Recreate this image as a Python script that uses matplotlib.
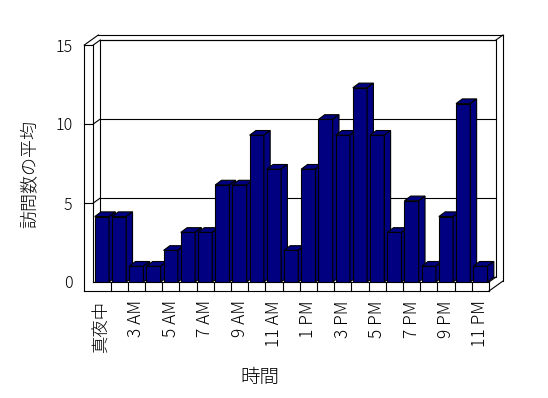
import matplotlib
matplotlib.use('Agg')
import matplotlib.pyplot as plt
from matplotlib.patches import Polygon
import numpy as np

plt.rcParams['font.family'] = ['Noto Sans CJK JP', 'DejaVu Sans']
plt.rcParams['font.weight'] = 'light'

# average visits per hour (bar order as in the chart)
hours = ['真夜中', '1 AM', '3 AM', '4 AM', '5 AM', '6 AM', '7 AM', '8 AM',
         '9 AM', '10 AM', '11 AM', '正午', '1 PM', '2 PM', '3 PM', '4 PM',
         '5 PM', '6 PM', '7 PM', '8 PM', '9 PM', '10 PM', '11 PM']
visits = [4.14, 4.14, 1.00, 1.00, 2.00, 3.14, 3.14, 6.14, 6.14, 9.29, 7.14,
          2.00, 7.14, 10.29, 9.29, 12.29, 9.29, 3.14, 5.14, 1.00, 4.14,
          11.29, 1.00]
yticks = [0, 5, 10, 15]

NAVY = '#000080'
W, H = 548, 398

fig = plt.figure(figsize=(W / 100, H / 100), dpi=100)
# front plane of the 3d box, in pixels
fx0, fx1, fy0, fy1 = 93.3, 489.0, 282.0, 45.0
ax = fig.add_axes([fx0 / W, 1 - fy0 / H, (fx1 - fx0) / W, (fy0 - fy1) / H])
n = len(visits)
xmin, xmax, ymin, ymax = -0.5, n - 0.5, 0, 15
ax.set_xlim(xmin, xmax)
ax.set_ylim(ymin, ymax)
ax.set_facecolor('none')
for s in ax.spines.values():
    s.set_visible(False)

# pixel -> data units
ux = (xmax - xmin) / (fx1 - fx0)
uy = (ymax - ymin) / (fy0 - fy1)

lw = 0.8
kw = dict(color='black', lw=lw, clip_on=False)

# depth offsets (px)
bdx, bdy = 7 * ux, 5 * uy      # inner back plane
odx, ody = 14 * ux, 10 * uy    # outer back plane
tx, ty = 9 * ux, 9 * uy        # wall / floor thickness

# back wall (inner face) and outline of the box
ax.add_patch(Polygon([(xmin + bdx, ymin + bdy), (xmax + bdx, ymin + bdy),
                      (xmax + bdx, ymax + bdy), (xmin + bdx, ymax + bdy)],
                     closed=True, fc='white', ec='black', lw=lw,
                     clip_on=False, zorder=1))
for v in yticks[1:]:
    ax.plot([xmin + bdx, xmax + bdx], [v + bdy, v + bdy], zorder=1.5, **kw)
    ax.plot([xmin, xmin + bdx], [v, v + bdy], zorder=1.5, **kw)
    ax.plot([xmin - tx, xmin], [v, v], zorder=1.5, **kw)

# left wall
ax.plot([xmin - tx, xmin - tx], [ymax, ymin - ty], zorder=2, **kw)
ax.plot([xmin, xmin], [ymax, ymin], zorder=2, **kw)
ax.plot([xmin - tx, xmin - tx + odx], [ymax, ymax + ody], zorder=2, **kw)
# back wall outer top / right
ax.plot([xmin - tx + odx, xmax + odx], [ymax + ody, ymax + ody], zorder=2, **kw)
ax.plot([xmax + bdx, xmax + odx], [ymax + bdy, ymax + ody], zorder=2, **kw)
ax.plot([xmax + odx, xmax + odx], [ymax + ody, ymin - ty + ody], zorder=2, **kw)
# floor
ax.plot([xmin - tx, xmax], [ymin - ty, ymin - ty], zorder=2, **kw)
ax.plot([xmin, xmax], [ymin, ymin], zorder=2, **kw)
ax.plot([xmax, xmax], [ymin, ymin - ty], zorder=2, **kw)
ax.plot([xmax, xmax + odx], [ymin - ty, ymin - ty + ody], zorder=2, **kw)
ax.plot([xmax, xmax + bdx], [ymin, ymin + bdy], zorder=2, **kw)
for k in range(1, n):
    ax.plot([k - 0.5, k - 0.5], [ymin, ymin - ty], zorder=2, **kw)

# 3d columns
x = np.arange(n)
bw = 0.83
cdx, cdy = 6.3 * ux, 4.7 * uy
for i, v in enumerate(visits):
    z = 3 + i * 0.01
    ax.bar(x[i], v, width=bw, color=NAVY, edgecolor='black', lw=lw, zorder=z)
    l, r = x[i] - bw / 2, x[i] + bw / 2
    ax.add_patch(Polygon([(l, v), (r, v), (r + cdx, v + cdy), (l + cdx, v + cdy)],
                         closed=True, fc=NAVY, ec='black', lw=lw, zorder=z,
                         clip_on=False))
    ax.add_patch(Polygon([(r, 0), (r, v), (r + cdx, v + cdy), (r + cdx, cdy)],
                         closed=True, fc=NAVY, ec='black', lw=lw, zorder=z,
                         clip_on=False))

ax.set_yticks(yticks)
ax.set_yticklabels([str(t) for t in yticks], fontsize=11.5)
ax.set_xticks(x[::2])
ax.set_xticklabels(hours[::2], rotation=90, fontsize=12.5)
ax.tick_params(axis='y', length=0, pad=15)
ax.tick_params(axis='x', length=0, pad=13)

fig.text(30 / W, 1 - 174 / H, '訪問数の平均', rotation=90, fontsize=13,
         ha='center', va='center')
fig.text(260 / W, 1 - 377 / H, '時間', fontsize=14, ha='center', va='center')

fig.savefig('out.png', dpi=100)
